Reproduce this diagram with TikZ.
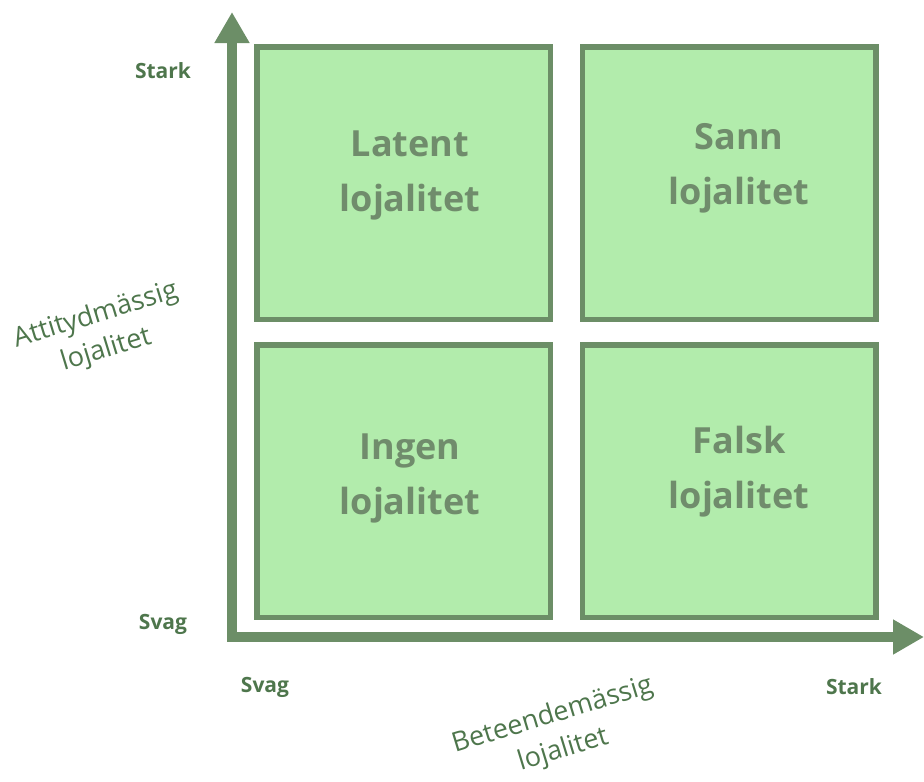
\documentclass[tikz,border=0pt]{standalone}
\usepackage{fontspec}
\setmainfont{Open Sans}
\usetikzlibrary{arrows.meta}
\definecolor{boxfill}{RGB}{178,236,172}
\definecolor{boxedge}{RGB}{108,142,103}
\definecolor{labelgreen}{RGB}{78,118,76}
\definecolor{celltext}{RGB}{112,140,108}

\begin{document}
\begin{tikzpicture}[
  x=1pt, y=-1pt,
  quadrant/.style={draw=boxedge, fill=boxfill, line width=5.5pt,
                   minimum width=293.5pt, minimum height=272.5pt, inner sep=0pt},
  celllabel/.style={text=celltext, align=center,
                    font=\fontsize{36}{55}\selectfont\bfseries},
  ticklabel/.style={text=labelgreen, font=\fontsize{21}{25}\selectfont\bfseries},
  axislabel/.style={text=labelgreen, align=center, rotate=17, inner sep=0pt,
                    font=\fontsize{27}{36}\selectfont},
  axisline/.style={draw=boxedge, line width=10pt, line join=miter,
                   {Triangle[length=31pt,width=33pt]}-{Triangle[length=31pt,width=33pt]}}
]
\useasboundingbox (0,0) rectangle (924,782);

% ---------------- Quadrants ----------------
\node[quadrant] (latent) at (403.5,183) {};
\node[quadrant] (sann)   at (729,183)   {};
\node[quadrant] (ingen)  at (403.5,481) {};
\node[quadrant] (falsk)  at (729,481)   {};

\node[celllabel] (latenttxt) at (410,175) {Latent\\lojalitet};
\node[celllabel] (sanntxt)   at (739,168) {Sann\\lojalitet};
\node[celllabel] (ingentxt)  at (410,478) {Ingen\\lojalitet};
\node[celllabel] (falsktxt)  at (739,472) {Falsk\\lojalitet};

% ---------------- Axes ----------------
\coordinate (ytop)   at (232,12);
\coordinate (origin) at (232,637);
\coordinate (xend)   at (924,637);
\draw[axisline] (ytop) -- (origin) -- (xend);

% ---------------- Axis labels ----------------
\node[ticklabel] (ystark) at (163,71)  {Stark};
\node[ticklabel] (ysvag)  at (163,624) {Svag};
\node[ticklabel] (xsvag)  at (265,687) {Svag};
\node[ticklabel] (xstark) at (854,687) {Stark};

\node[axislabel] (ytitle) at (101,333) {Attitydmässig\\lojalitet};
\node[axislabel] (xtitle) at (558,733) {Beteendemässig\\lojalitet};

\end{tikzpicture}
\end{document}
